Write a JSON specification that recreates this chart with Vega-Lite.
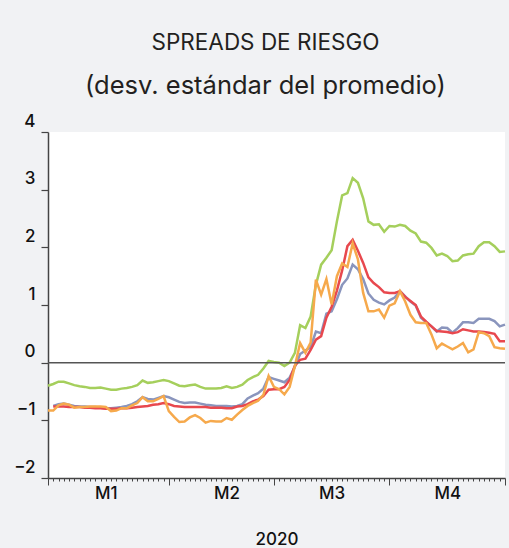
{
"$schema": "https://vega.github.io/schema/vega-lite/v6.json",
"width": 457, "height": 346,
"autosize": {"type": "none"},
"padding": {"left": 48, "top": 132, "right": 4, "bottom": 70},
"background": "#f1f2f4",
"view": {"fill": "white", "stroke": null},
"title": {"text": "SPREADS DE RIESGO", "subtitle": "(desv. estándar del promedio)", "anchor": "middle", "dx": -11, "font": "Inter", "fontSize": 22.5, "fontWeight": "normal", "color": "#231f20", "subtitleFont": "Inter", "subtitleFontSize": 25.5, "subtitleColor": "#231f20", "subtitlePadding": 19, "offset": 13},
"datasets": {
"series": [
{"t":0,"s":"A","v":-0.40},{"t":1,"s":"A","v":-0.37},{"t":2,"s":"A","v":-0.33},{"t":3,"s":"A","v":-0.33},{"t":4,"s":"A","v":-0.36},{"t":5,"s":"A","v":-0.39},{"t":6,"s":"A","v":-0.41},{"t":7,"s":"A","v":-0.42},{"t":8,"s":"A","v":-0.44},{"t":9,"s":"A","v":-0.44},{"t":10,"s":"A","v":-0.43},{"t":11,"s":"A","v":-0.45},{"t":12,"s":"A","v":-0.47},{"t":13,"s":"A","v":-0.47},{"t":14,"s":"A","v":-0.45},{"t":15,"s":"A","v":-0.44},{"t":16,"s":"A","v":-0.42},{"t":17,"s":"A","v":-0.39},{"t":18,"s":"A","v":-0.31},{"t":19,"s":"A","v":-0.35},{"t":20,"s":"A","v":-0.34},{"t":21,"s":"A","v":-0.32},{"t":22,"s":"A","v":-0.30},{"t":23,"s":"A","v":-0.32},{"t":24,"s":"A","v":-0.36},{"t":25,"s":"A","v":-0.40},{"t":26,"s":"A","v":-0.41},{"t":27,"s":"A","v":-0.39},{"t":28,"s":"A","v":-0.38},{"t":29,"s":"A","v":-0.42},{"t":30,"s":"A","v":-0.45},{"t":31,"s":"A","v":-0.45},{"t":32,"s":"A","v":-0.45},{"t":33,"s":"A","v":-0.44},{"t":34,"s":"A","v":-0.41},{"t":35,"s":"A","v":-0.44},{"t":36,"s":"A","v":-0.42},{"t":37,"s":"A","v":-0.38},{"t":38,"s":"A","v":-0.30},{"t":39,"s":"A","v":-0.25},{"t":40,"s":"A","v":-0.21},{"t":41,"s":"A","v":-0.10},{"t":42,"s":"A","v":0.03},{"t":43,"s":"A","v":0.01},{"t":44,"s":"A","v":0.00},{"t":45,"s":"A","v":-0.06},{"t":46,"s":"A","v":0.00},{"t":47,"s":"A","v":0.17},{"t":48,"s":"A","v":0.65},{"t":49,"s":"A","v":0.60},{"t":50,"s":"A","v":0.80},{"t":51,"s":"A","v":1.35},{"t":52,"s":"A","v":1.70},{"t":53,"s":"A","v":1.82},{"t":54,"s":"A","v":1.95},{"t":55,"s":"A","v":2.45},{"t":56,"s":"A","v":2.90},{"t":57,"s":"A","v":2.94},{"t":58,"s":"A","v":3.20},{"t":59,"s":"A","v":3.12},{"t":60,"s":"A","v":2.85},{"t":61,"s":"A","v":2.45},{"t":62,"s":"A","v":2.39},{"t":63,"s":"A","v":2.40},{"t":64,"s":"A","v":2.27},{"t":65,"s":"A","v":2.37},{"t":66,"s":"A","v":2.36},{"t":67,"s":"A","v":2.39},{"t":68,"s":"A","v":2.37},{"t":69,"s":"A","v":2.29},{"t":70,"s":"A","v":2.24},{"t":71,"s":"A","v":2.10},{"t":72,"s":"A","v":2.08},{"t":73,"s":"A","v":1.99},{"t":74,"s":"A","v":1.86},{"t":75,"s":"A","v":1.89},{"t":76,"s":"A","v":1.85},{"t":77,"s":"A","v":1.76},{"t":78,"s":"A","v":1.77},{"t":79,"s":"A","v":1.86},{"t":80,"s":"A","v":1.88},{"t":81,"s":"A","v":1.89},{"t":82,"s":"A","v":2.02},{"t":83,"s":"A","v":2.09},{"t":84,"s":"A","v":2.09},{"t":85,"s":"A","v":2.02},{"t":86,"s":"A","v":1.92},{"t":87,"s":"A","v":1.93},
{"t":1,"s":"B","v":-0.75},{"t":2,"s":"B","v":-0.72},{"t":3,"s":"B","v":-0.71},{"t":4,"s":"B","v":-0.73},{"t":5,"s":"B","v":-0.75},{"t":6,"s":"B","v":-0.76},{"t":7,"s":"B","v":-0.76},{"t":8,"s":"B","v":-0.77},{"t":9,"s":"B","v":-0.77},{"t":10,"s":"B","v":-0.78},{"t":11,"s":"B","v":-0.79},{"t":12,"s":"B","v":-0.79},{"t":13,"s":"B","v":-0.78},{"t":14,"s":"B","v":-0.77},{"t":15,"s":"B","v":-0.75},{"t":16,"s":"B","v":-0.72},{"t":17,"s":"B","v":-0.67},{"t":18,"s":"B","v":-0.60},{"t":19,"s":"B","v":-0.63},{"t":20,"s":"B","v":-0.64},{"t":21,"s":"B","v":-0.61},{"t":22,"s":"B","v":-0.58},{"t":23,"s":"B","v":-0.60},{"t":24,"s":"B","v":-0.64},{"t":25,"s":"B","v":-0.68},{"t":26,"s":"B","v":-0.70},{"t":27,"s":"B","v":-0.69},{"t":28,"s":"B","v":-0.69},{"t":29,"s":"B","v":-0.71},{"t":30,"s":"B","v":-0.73},{"t":31,"s":"B","v":-0.74},{"t":32,"s":"B","v":-0.75},{"t":33,"s":"B","v":-0.75},{"t":34,"s":"B","v":-0.75},{"t":35,"s":"B","v":-0.76},{"t":36,"s":"B","v":-0.75},{"t":37,"s":"B","v":-0.72},{"t":38,"s":"B","v":-0.62},{"t":39,"s":"B","v":-0.57},{"t":40,"s":"B","v":-0.53},{"t":41,"s":"B","v":-0.45},{"t":42,"s":"B","v":-0.25},{"t":43,"s":"B","v":-0.28},{"t":44,"s":"B","v":-0.31},{"t":45,"s":"B","v":-0.34},{"t":46,"s":"B","v":-0.26},{"t":47,"s":"B","v":-0.07},{"t":48,"s":"B","v":0.15},{"t":49,"s":"B","v":0.21},{"t":50,"s":"B","v":0.27},{"t":51,"s":"B","v":0.54},{"t":52,"s":"B","v":0.51},{"t":53,"s":"B","v":0.85},{"t":54,"s":"B","v":0.89},{"t":55,"s":"B","v":1.10},{"t":56,"s":"B","v":1.35},{"t":57,"s":"B","v":1.46},{"t":58,"s":"B","v":1.70},{"t":59,"s":"B","v":1.62},{"t":60,"s":"B","v":1.45},{"t":61,"s":"B","v":1.20},{"t":62,"s":"B","v":1.09},{"t":63,"s":"B","v":1.04},{"t":64,"s":"B","v":1.01},{"t":65,"s":"B","v":1.08},{"t":66,"s":"B","v":1.13},{"t":67,"s":"B","v":1.24},{"t":68,"s":"B","v":1.15},{"t":69,"s":"B","v":1.06},{"t":70,"s":"B","v":0.99},{"t":71,"s":"B","v":0.78},{"t":72,"s":"B","v":0.70},{"t":73,"s":"B","v":0.63},{"t":74,"s":"B","v":0.54},{"t":75,"s":"B","v":0.61},{"t":76,"s":"B","v":0.60},{"t":77,"s":"B","v":0.52},{"t":78,"s":"B","v":0.60},{"t":79,"s":"B","v":0.70},{"t":80,"s":"B","v":0.70},{"t":81,"s":"B","v":0.69},{"t":82,"s":"B","v":0.76},{"t":83,"s":"B","v":0.76},{"t":84,"s":"B","v":0.76},{"t":85,"s":"B","v":0.72},{"t":86,"s":"B","v":0.63},{"t":87,"s":"B","v":0.66},
{"t":1,"s":"C","v":-0.76},{"t":2,"s":"C","v":-0.76},{"t":3,"s":"C","v":-0.76},{"t":4,"s":"C","v":-0.77},{"t":5,"s":"C","v":-0.77},{"t":6,"s":"C","v":-0.77},{"t":7,"s":"C","v":-0.78},{"t":8,"s":"C","v":-0.78},{"t":9,"s":"C","v":-0.79},{"t":10,"s":"C","v":-0.79},{"t":11,"s":"C","v":-0.80},{"t":12,"s":"C","v":-0.80},{"t":13,"s":"C","v":-0.80},{"t":14,"s":"C","v":-0.79},{"t":15,"s":"C","v":-0.79},{"t":16,"s":"C","v":-0.78},{"t":17,"s":"C","v":-0.77},{"t":18,"s":"C","v":-0.76},{"t":19,"s":"C","v":-0.75},{"t":20,"s":"C","v":-0.73},{"t":21,"s":"C","v":-0.72},{"t":22,"s":"C","v":-0.70},{"t":23,"s":"C","v":-0.72},{"t":24,"s":"C","v":-0.75},{"t":25,"s":"C","v":-0.76},{"t":26,"s":"C","v":-0.77},{"t":27,"s":"C","v":-0.77},{"t":28,"s":"C","v":-0.77},{"t":29,"s":"C","v":-0.77},{"t":30,"s":"C","v":-0.77},{"t":31,"s":"C","v":-0.78},{"t":32,"s":"C","v":-0.78},{"t":33,"s":"C","v":-0.78},{"t":34,"s":"C","v":-0.79},{"t":35,"s":"C","v":-0.79},{"t":36,"s":"C","v":-0.76},{"t":37,"s":"C","v":-0.75},{"t":38,"s":"C","v":-0.72},{"t":39,"s":"C","v":-0.67},{"t":40,"s":"C","v":-0.64},{"t":41,"s":"C","v":-0.58},{"t":42,"s":"C","v":-0.47},{"t":43,"s":"C","v":-0.46},{"t":44,"s":"C","v":-0.46},{"t":45,"s":"C","v":-0.42},{"t":46,"s":"C","v":-0.30},{"t":47,"s":"C","v":-0.05},{"t":48,"s":"C","v":0.05},{"t":49,"s":"C","v":0.07},{"t":50,"s":"C","v":0.22},{"t":51,"s":"C","v":0.40},{"t":52,"s":"C","v":0.46},{"t":53,"s":"C","v":0.78},{"t":54,"s":"C","v":0.97},{"t":55,"s":"C","v":1.25},{"t":56,"s":"C","v":1.60},{"t":57,"s":"C","v":2.02},{"t":58,"s":"C","v":2.13},{"t":59,"s":"C","v":1.94},{"t":60,"s":"C","v":1.73},{"t":61,"s":"C","v":1.48},{"t":62,"s":"C","v":1.38},{"t":63,"s":"C","v":1.31},{"t":64,"s":"C","v":1.22},{"t":65,"s":"C","v":1.21},{"t":66,"s":"C","v":1.21},{"t":67,"s":"C","v":1.24},{"t":68,"s":"C","v":1.14},{"t":69,"s":"C","v":1.07},{"t":70,"s":"C","v":1.00},{"t":71,"s":"C","v":0.80},{"t":72,"s":"C","v":0.71},{"t":73,"s":"C","v":0.63},{"t":74,"s":"C","v":0.55},{"t":75,"s":"C","v":0.54},{"t":76,"s":"C","v":0.53},{"t":77,"s":"C","v":0.51},{"t":78,"s":"C","v":0.53},{"t":79,"s":"C","v":0.58},{"t":80,"s":"C","v":0.56},{"t":81,"s":"C","v":0.54},{"t":82,"s":"C","v":0.54},{"t":83,"s":"C","v":0.53},{"t":84,"s":"C","v":0.52},{"t":85,"s":"C","v":0.50},{"t":86,"s":"C","v":0.37},{"t":87,"s":"C","v":0.37},
{"t":0,"s":"D","v":-0.83},{"t":1,"s":"D","v":-0.83},{"t":2,"s":"D","v":-0.74},{"t":3,"s":"D","v":-0.71},{"t":4,"s":"D","v":-0.73},{"t":5,"s":"D","v":-0.78},{"t":6,"s":"D","v":-0.77},{"t":7,"s":"D","v":-0.77},{"t":8,"s":"D","v":-0.76},{"t":9,"s":"D","v":-0.76},{"t":10,"s":"D","v":-0.76},{"t":11,"s":"D","v":-0.77},{"t":12,"s":"D","v":-0.84},{"t":13,"s":"D","v":-0.83},{"t":14,"s":"D","v":-0.79},{"t":15,"s":"D","v":-0.79},{"t":16,"s":"D","v":-0.74},{"t":17,"s":"D","v":-0.70},{"t":18,"s":"D","v":-0.60},{"t":19,"s":"D","v":-0.67},{"t":20,"s":"D","v":-0.67},{"t":21,"s":"D","v":-0.63},{"t":22,"s":"D","v":-0.58},{"t":23,"s":"D","v":-0.84},{"t":24,"s":"D","v":-0.94},{"t":25,"s":"D","v":-1.03},{"t":26,"s":"D","v":-1.02},{"t":27,"s":"D","v":-0.95},{"t":28,"s":"D","v":-0.91},{"t":29,"s":"D","v":-0.96},{"t":30,"s":"D","v":-1.04},{"t":31,"s":"D","v":-1.01},{"t":32,"s":"D","v":-1.02},{"t":33,"s":"D","v":-1.02},{"t":34,"s":"D","v":-0.96},{"t":35,"s":"D","v":-0.99},{"t":36,"s":"D","v":-0.90},{"t":37,"s":"D","v":-0.82},{"t":38,"s":"D","v":-0.75},{"t":39,"s":"D","v":-0.70},{"t":40,"s":"D","v":-0.66},{"t":41,"s":"D","v":-0.56},{"t":42,"s":"D","v":-0.23},{"t":43,"s":"D","v":-0.42},{"t":44,"s":"D","v":-0.46},{"t":45,"s":"D","v":-0.55},{"t":46,"s":"D","v":-0.42},{"t":47,"s":"D","v":-0.06},{"t":48,"s":"D","v":0.34},{"t":49,"s":"D","v":0.17},{"t":50,"s":"D","v":0.35},{"t":51,"s":"D","v":1.44},{"t":52,"s":"D","v":1.18},{"t":53,"s":"D","v":1.45},{"t":54,"s":"D","v":1.01},{"t":55,"s":"D","v":1.50},{"t":56,"s":"D","v":1.72},{"t":57,"s":"D","v":1.66},{"t":58,"s":"D","v":2.07},{"t":59,"s":"D","v":1.79},{"t":60,"s":"D","v":1.21},{"t":61,"s":"D","v":0.89},{"t":62,"s":"D","v":0.89},{"t":63,"s":"D","v":0.92},{"t":64,"s":"D","v":0.78},{"t":65,"s":"D","v":0.99},{"t":66,"s":"D","v":1.03},{"t":67,"s":"D","v":1.24},{"t":68,"s":"D","v":1.06},{"t":69,"s":"D","v":0.83},{"t":70,"s":"D","v":0.70},{"t":71,"s":"D","v":0.69},{"t":72,"s":"D","v":0.69},{"t":73,"s":"D","v":0.49},{"t":74,"s":"D","v":0.25},{"t":75,"s":"D","v":0.33},{"t":76,"s":"D","v":0.28},{"t":77,"s":"D","v":0.23},{"t":78,"s":"D","v":0.28},{"t":79,"s":"D","v":0.34},{"t":80,"s":"D","v":0.18},{"t":81,"s":"D","v":0.23},{"t":82,"s":"D","v":0.53},{"t":83,"s":"D","v":0.51},{"t":84,"s":"D","v":0.46},{"t":85,"s":"D","v":0.27},{"t":86,"s":"D","v":0.25},{"t":87,"s":"D","v":0.24}
]
},
"layer": [
{
"data": {"name": "series"},
"mark": {"type": "line", "strokeWidth": 2.5, "clip": false},
"encoding": {
"x": {"field": "t", "type": "quantitative",
"scale": {"domain": [0, 87], "nice": false, "zero": false},
"axis": {"values": [0,1,2,3,4,5,6,7,8,9,10,11,12,13,14,15,16,17,18,19,20,21,22,23,24,25,26,27,28,29,30,31,32,33,34,35,36,37,38,39,40,41,42,43,44,45,46,47,48,49,50,51,52,53,54,55,56,57,58,59,60,61,62,63,64,65,66,67,68,69,70,71,72,73,74,75,76,77,78,79,80,81,82,83,84,85,86,87],
"labelExpr": "datum.value == 11 ? 'M1' : datum.value == 34 ? 'M2' : datum.value == 54 ? 'M3' : datum.value == 76 ? 'M4' : ''",
"labelOverlap": false, "labelFlush": false, "labelBound": false,
"grid": false,
"domainColor": "#444", "domainWidth": 1.5,
"tickColor": "#444", "tickWidth": 1,
"tickSize": {"condition": {"test": "indexof([0,23,43,65,87], datum.value) >= 0", "value": 7}, "value": 3},
"labelFont": "Inter", "labelFontSize": 17, "labelFontWeight": 500, "labelColor": "#111", "labelPadding": 4,
"title": "2020", "titleFont": "Inter", "titleFontSize": 17, "titleFontWeight": 500, "titleColor": "#111", "titlePadding": 26}},
"y": {"field": "v", "type": "quantitative",
"scale": {"domain": [-2, 4], "nice": false},
"axis": {"values": [-2,-1,0,1,2,3,4], "title": null, "grid": false,
"domainColor": "#444", "domainWidth": 1.5, "tickColor": "#444", "tickWidth": 1.2, "tickSize": 7,
"labelFont": "Inter", "labelFontSize": 17, "labelFontWeight": 500, "labelColor": "#111", "labelPadding": 6,
"labelBaseline": "alphabetic", "labelOffset": -6}},
"color": {"field": "s", "type": "nominal", "legend": null,
"scale": {"domain": ["A", "B", "C", "D"], "range": ["#a5cf5c", "#8a95bd", "#e8484e", "#f6a94c"]}}
}
},
{
"data": {"values": [{}]},
"mark": {"type": "rule", "color": "#555", "strokeWidth": 1.5},
"encoding": {
"y": {"datum": 0, "type": "quantitative",
"axis": {"values": [-2,-1,0,1,2,3,4], "title": null, "grid": false,
"domainColor": "#444", "domainWidth": 1.5, "tickColor": "#444", "tickWidth": 1.2, "tickSize": 7,
"labelFont": "Inter", "labelFontSize": 17, "labelFontWeight": 500, "labelColor": "#111", "labelPadding": 6,
"labelBaseline": "alphabetic", "labelOffset": -6}}
}
}
]
}
